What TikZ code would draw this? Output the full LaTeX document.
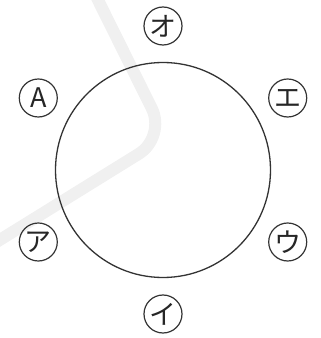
\documentclass[tikz,border=0pt]{standalone}
\usepackage{fontspec}
\newfontfamily\jp{Noto Sans CJK JP}
\usetikzlibrary{positioning, calc}

\begin{document}
\begin{tikzpicture}[
  x=1pt, y=1pt,
  font=\jp\fontsize{27}{27}\selectfont,
  ring/.style={draw=black!80, circle, line width=1.3pt, minimum size=215pt, inner sep=0pt},
  tag/.style={draw=black!80, circle, line width=1.2pt, minimum size=38pt, inner sep=0pt, text=black!85},
  shade/.style={draw=black!6, line width=12pt, rounded corners=32pt}
]
  \useasboundingbox (0,0) rectangle (321,338);

  % faint background stroke
  \begin{scope}
    \clip (0,0) rectangle (321,338);
    \draw[shade] (93,348) -- (166,201) -- (-10,92);
  \end{scope}

  \node[ring] (big) at (163,168) {};

  \foreach \a/\n/\t in {90/o/オ, 150/A/A, 30/e/エ, 210/a/ア, 330/u/ウ, 270/i/イ}{
    \node[tag] (\n) at ($(big.center)+(\a:144)$) {\t};
  }
\end{tikzpicture}
\end{document}
